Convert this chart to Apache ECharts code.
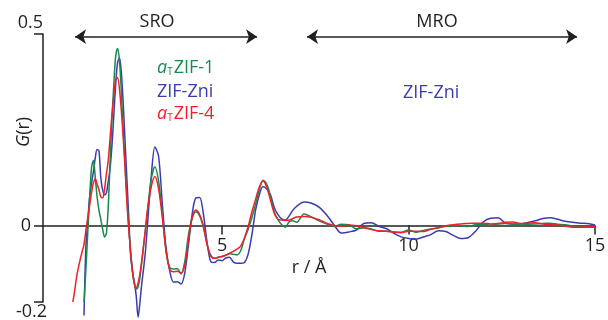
<!DOCTYPE html>
<html>
<head>
<meta charset="utf-8">
<script src="https://cdn.jsdelivr.net/npm/echarts@6/dist/echarts.min.js"></script>
<style>
  html, body { margin: 0; padding: 0; background: #fff; }
  #chart { width: 608px; height: 320px; }
</style>
</head>
<body>
<div id="chart"></div>
<script>
// r grid (Å): fine steps in the short-range part, coarser further out
const rValues = [
  1.00, 1.05, 1.10, 1.15, 1.20, 1.25, 1.30, 1.35, 1.40, 1.45,
  1.50, 1.55, 1.60, 1.65, 1.70, 1.75, 1.80, 1.85, 1.90, 1.95,
  2.00, 2.05, 2.10, 2.15, 2.20, 2.25, 2.30, 2.35, 2.40, 2.45,
  2.50, 2.55, 2.60, 2.65, 2.70, 2.75, 2.80, 2.85, 2.90, 2.95,
  3.00,
  3.1, 3.2, 3.3, 3.4, 3.5, 3.6, 3.7, 3.8, 3.9, 4.0,
  4.1, 4.2, 4.3, 4.4, 4.5, 4.6, 4.7, 4.8, 4.9, 5.0,
  5.1, 5.2, 5.3, 5.4, 5.5, 5.6, 5.7, 5.8, 5.9, 6.0,
  6.1, 6.2, 6.3, 6.4, 6.5, 6.6, 6.7, 6.8, 6.9, 7.0,
  7.2, 7.4, 7.6, 7.8, 8.0, 8.2, 8.4, 8.6, 8.8, 9.0,
  9.2, 9.4, 9.6, 9.8, 10.0, 10.2, 10.4, 10.6, 10.8, 11.0,
  11.2, 11.4, 11.6, 11.8, 12.0, 12.2, 12.4, 12.6, 12.8, 13.0,
  13.2, 13.4, 13.6, 13.8, 14.0, 14.2, 14.4, 14.6, 14.8, 15.0
];

// G(r) for a_T ZIF-1 (green)
const gZif1 = [
  null, null, null, null, null, null, -0.20, -0.115, -0.02, 0.07,
  0.15, 0.17, 0.127, 0.075, 0.04, 0.015, -0.01, -0.03, -0.02, 0.05,
  0.17, 0.28, 0.37, 0.443, 0.462, 0.43, 0.35, 0.25, 0.16, 0.07,
  -0.005, -0.07, -0.12, -0.152, -0.167, -0.16, -0.135, -0.095, -0.05, -0.01,
  0.035,
  0.12, 0.153, 0.115, 0.03, -0.07, -0.11, -0.114, -0.113, -0.127, -0.095,
  -0.025, 0.02, 0.036, 0.025, -0.005, -0.05, -0.078, -0.086, -0.083, -0.081,
  -0.078, -0.074, -0.075, -0.077, -0.066, -0.035, -0.01, 0.02, 0.055, 0.093,
  0.118, 0.108, 0.075, 0.035, 0.015, 0.002, -0.005, 0.01, 0.012, 0.008,
  0.03, 0.022, 0.012, 0.004, -0.003, 0.003, 0.002, -0.009, -0.006, -0.009,
  -0.015, -0.015, -0.017, -0.018, -0.012, -0.018, -0.013, -0.009, -0.007, -0.002,
  0.0, -0.001, -0.003, 0.002, 0.002, 0.001, 0.004, 0.005, 0.003, 0.001,
  0.003, 0.004, 0.005, 0.006, 0.003, 0.002, -0.002, -0.005, -0.005, -0.005
];

// G(r) for ZIF-Zni (blue)
const gZni = [
  null, null, null, null, null, null, -0.235, -0.055, 0.01, 0.075,
  0.11, 0.14, 0.175, 0.198, 0.195, 0.125, 0.092, 0.08, 0.085, 0.115,
  0.15, 0.21, 0.29, 0.37, 0.425, 0.437, 0.40, 0.32, 0.22, 0.12,
  0.02, -0.08, -0.12, -0.15, -0.185, -0.24, -0.2, -0.15, -0.11, -0.064,
  0.0,
  0.125, 0.205, 0.18, 0.055, -0.06, -0.12, -0.148, -0.147, -0.153, -0.125,
  -0.05, 0.03, 0.072, 0.073, 0.03, -0.045, -0.095, -0.097, -0.09, -0.092,
  -0.085, -0.083, -0.095, -0.099, -0.099, -0.097, -0.075, -0.025, 0.04, 0.08,
  0.102, 0.095, 0.08, 0.047, 0.028, 0.017, 0.014, 0.025, 0.04, 0.05,
  0.061, 0.058, 0.048, 0.028, 0.002, -0.02, -0.017, -0.012, 0.005, 0.007,
  -0.002, -0.008, -0.02, -0.03, -0.034, -0.036, -0.03, -0.024, -0.014, -0.016,
  -0.026, -0.034, -0.032, -0.015, 0.009, 0.019, 0.02, 0.006, 0.004, 0.004,
  0.008, 0.012, 0.018, 0.02, 0.016, 0.011, 0.008, 0.006, 0.005, 0.001
];

// G(r) for a_T ZIF-4 (red)
const gZif4 = [
  -0.20, -0.17, -0.135, -0.11, -0.088, -0.068, -0.05, -0.012, 0.02, 0.052,
  0.085, 0.11, 0.122, 0.108, 0.093, 0.075, 0.072, 0.095, 0.135, 0.17,
  0.23, 0.29, 0.34, 0.38, 0.386, 0.356, 0.30, 0.23, 0.15, 0.06,
  -0.01, -0.07, -0.12, -0.152, -0.164, -0.15, -0.125, -0.09, -0.05, -0.005,
  0.04,
  0.10, 0.128, 0.095, 0.02, -0.065, -0.116, -0.121, -0.12, -0.124, -0.105,
  -0.04, 0.02, 0.04, 0.028, 0.0, -0.05, -0.08, -0.086, -0.083, -0.081,
  -0.078, -0.073, -0.068, -0.062, -0.054, -0.033, -0.003, 0.035, 0.068, 0.10,
  0.117, 0.10, 0.066, 0.032, 0.016, 0.014, 0.013, 0.014, 0.018, 0.022,
  0.023, 0.021, 0.015, 0.006, 0.0, -0.002, 0.001, -0.001, -0.006, -0.011,
  -0.014, -0.015, -0.017, -0.019, -0.015, -0.015, -0.016, -0.010, -0.006, -0.001,
  0.002, 0.004, 0.005, 0.006, 0.006, 0.004, 0.005, 0.008, 0.009, 0.005,
  0.006, 0.007, 0.004, 0.002, 0.001, -0.002, -0.005, -0.005, -0.004, -0.003
];

const xTicks = [5, 10, 15];
const yTicks = [-0.2, 0, 0.5];
const yMin = -0.2;
const yMax = 0.5;

const FONT = 'Open Sans';
const INK = '#231f20';
const GREEN = '#178a4c';
const BLUE = '#3b3cb0';
const RED = '#f0202a';

const GRID_TOP = 34;
const GRID_H = 268;
// the r axis sits on G = 0, lift it from the grid bottom by that much
const zeroLift = GRID_H * (0 - yMin) / (yMax - yMin);

function pairs(ys) {
  return rValues.map((r, i) => [r, ys[i]]);
}

function curve(name, ys, color) {
  return {
    name: name,
    type: 'line',
    data: pairs(ys),
    showSymbol: false,
    smooth: 0.3,
    clip: false,
    lineStyle: { color: color, width: 1.5 },
    itemStyle: { color: color },
    silent: true
  };
}

// small label helper: italic "a", subscript "T", then the name
function tagText(x, y, text, color) {
  return {
    type: 'text', x: x, y: y,
    style: {
      text: text, fill: color, fontSize: 18, fontFamily: FONT,
      verticalAlign: 'middle',
      rich: {
        a: { fontStyle: 'italic', fontSize: 18, fontFamily: FONT, fill: color, color: color },
        t: { fontSize: 10, fontFamily: FONT, fill: color, color: color, verticalAlign: 'bottom', padding: [6, 1, 0, 0] },
        n: { fontSize: 18, fontFamily: FONT, fill: color, color: color }
      }
    }
  };
}

const chart = echarts.init(document.getElementById('chart'));

chart.setOption({
  animation: false,
  backgroundColor: '#fff',
  grid: { left: 43, right: 13, top: GRID_TOP, height: GRID_H, outerBoundsMode: 'none' },
  xAxis: {
    type: 'value', min: 0.2, max: 15,
    offset: -zeroLift,
    axisLine: { onZero: false, lineStyle: { color: INK, width: 1.5 } },
    axisTick: { customValues: xTicks, length: 9, lineStyle: { color: INK, width: 1.5 } },
    axisLabel: { customValues: xTicks, margin: 11, fontSize: 18, color: INK, fontFamily: FONT },
    splitLine: { show: false },
    name: 'r / Å', nameLocation: 'middle', nameGap: 32,
    nameTextStyle: { fontSize: 18, color: INK, fontFamily: FONT, padding: [0, 20, 0, 0] }
  },
  yAxis: {
    type: 'value', min: yMin, max: yMax,
    axisLine: { show: true, onZero: false, lineStyle: { color: INK, width: 1.5 } },
    axisTick: { show: true, customValues: yTicks, length: 9, lineStyle: { color: INK, width: 1.5 } },
    axisLabel: {
      customValues: yTicks, margin: -4, fontSize: 18, color: INK, fontFamily: FONT,
      // the top label sits above its tick; it is placed as a text element below
      formatter: function (v) {
        if (v > 0.4) return '';
        if (v < -0.1) return '{lo|' + v + '}';
        return '{mid|' + v + '}';
      },
      rich: {
        mid: { fontSize: 18, color: INK, fontFamily: FONT, padding: [0, 16, 0, 0] },
        lo: { fontSize: 18, color: INK, fontFamily: FONT, padding: [20, 0, 0, 0] }
      }
    },
    splitLine: { show: false }
  },
  series: [
    curve('ZIF-Zni', gZni, BLUE),
    curve('aTZIF-1', gZif1, GREEN),
    curve('aTZIF-4', gZif4, RED),
    {
      name: 'ranges', type: 'line', data: [], silent: true,
      markLine: {
        silent: true, animation: false,
        symbol: ['arrow', 'arrow'], symbolSize: 11,
        lineStyle: { color: INK, width: 1.5, type: 'solid' },
        label: { show: false },
        data: [
          [{ coord: [1.06, 0.493] }, { coord: [5.94, 0.493] }],
          [{ coord: [7.28, 0.493] }, { coord: [14.52, 0.493] }]
        ]
      }
    }
  ],
  graphic: [
    { type: 'text', x: 43, y: 23, style: { text: String(yMax), fill: INK, fontSize: 18, fontFamily: FONT, align: 'right', verticalAlign: 'middle' } },
    { type: 'text', x: 157, y: 22, style: { text: 'SRO', fill: INK, fontSize: 18, fontFamily: FONT, align: 'center', verticalAlign: 'middle' } },
    { type: 'text', x: 437, y: 22, style: { text: 'MRO', fill: INK, fontSize: 18, fontFamily: FONT, align: 'center', verticalAlign: 'middle' } },
    {
      type: 'text', x: 24, y: 132, rotation: Math.PI / 2,
      style: {
        text: '{i|G}(r)', fill: INK, fontSize: 18, fontFamily: FONT, align: 'center', verticalAlign: 'middle',
        rich: { i: { fontStyle: 'italic', fontSize: 18, fontFamily: FONT, fill: INK, color: INK } }
      }
    },
    tagText(157, 68, '{a|a}{t|T}{n|ZIF-1}', GREEN),
    tagText(157, 92, 'ZIF-Zni', BLUE),
    tagText(157, 114, '{a|a}{t|T}{n|ZIF-4}', RED),
    tagText(403, 93, 'ZIF-Zni', BLUE)
  ]
});
</script>
</body>
</html>
